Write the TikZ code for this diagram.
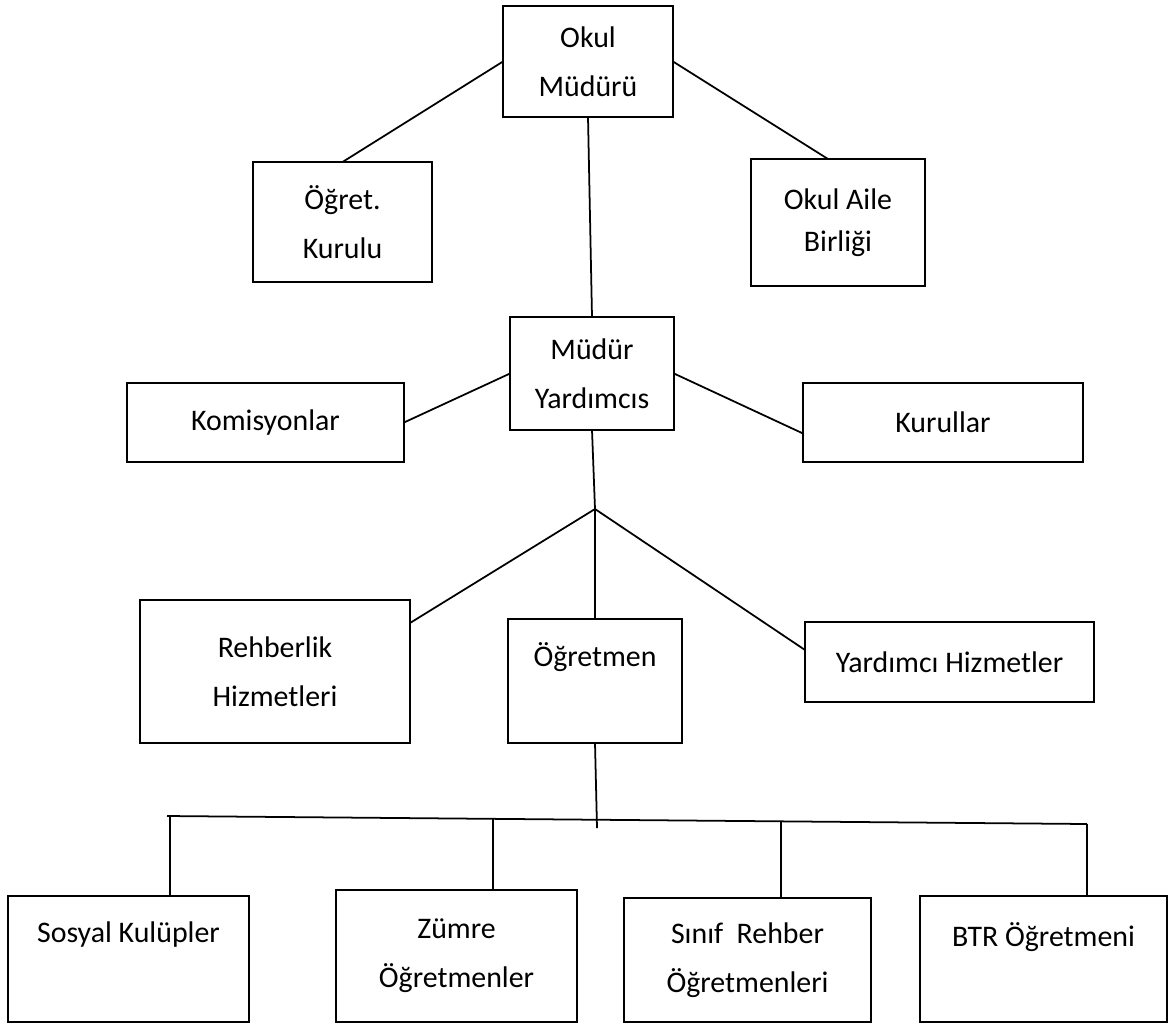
\documentclass[tikz,border=0pt]{standalone}
\usepackage{fontspec}
\setmainfont{Carlito}
\usetikzlibrary{calc}
\tikzset{box/.style={draw,line width=1.3pt,rectangle,align=center,inner sep=2pt,outer sep=0pt},
	toptext/.style={text height=0.48cm,text depth=#1}}

\begin{document}
\begin{tikzpicture}[x=0.02cm,y=-0.02cm,line width=1pt,every node/.style={font=\fontsize{17}{28}\selectfont}]
\useasboundingbox (0,0) rectangle (1172,1025);

\node[box,minimum width=3.40cm,minimum height=2.22cm] (om) at (588,61.5) {Okul\\Müdürü};
\node[box,minimum width=3.58cm,minimum height=2.40cm] (ok) at (342.5,222) {Öğret.\\Kurulu};
\node[box,minimum width=3.48cm,minimum height=2.54cm,font=\fontsize{17}{24}\selectfont] (oab) at (838,222.5) {Okul Aile\\Birliği};
\node[box,minimum width=3.28cm,minimum height=2.26cm] (my) at (592,373.5) {Müdür\\Yardımcıs};
\node[box,minimum width=5.54cm,minimum height=1.58cm] (kom) at (265.5,422.5) {Komisyonlar};
\node[box,minimum width=5.60cm,minimum height=1.58cm] (kur) at (943,422.5) {Kurullar};
\node[box,minimum width=5.40cm,minimum height=2.86cm] (reh) at (275,671.5) {Rehberlik\\Hizmetleri};
\node[box,toptext=1.06cm,minimum width=3.48cm,minimum height=2.48cm] (ogr) at (595,681) {Öğretmen};
\node[box,minimum width=5.78cm,minimum height=1.60cm] (yh) at (949.5,662) {Yardımcı Hizmetler};
\node[box,toptext=1.14cm,minimum width=4.82cm,minimum height=2.52cm] (sk) at (128.5,959) {Sosyal Kulüpler};
\node[box,minimum width=4.82cm,minimum height=2.64cm] (zo) at (456.5,956) {Zümre\\Öğretmenler};
\node[box,minimum width=4.94cm,minimum height=2.48cm] (sr) at (747.5,960) {Sınıf~~Rehber\\Öğretmenleri};
\node[box,toptext=0.98cm,minimum width=4.94cm,minimum height=2.52cm] (btr) at (1043.5,959) {BTR Öğretmeni};

\coordinate (j) at (595,509);
\coordinate (bl) at (167,816);
\coordinate (br) at (1087,824);
\coordinate (bm) at (597,828);

\draw (om.west) -- (ok.north);
\draw (om.east) -- ([xshift=-0.2cm]oab.north);
\draw (om.south) -- (my.north);
\draw (my.west) -- (kom.east);
\draw (my.east) -- ([yshift=-0.22cm]kur.west);
\draw (my.south) -- (j);
\draw (j) -- ([yshift=-0.46cm]reh.north east);
\draw (j) -- (ogr.north);
\draw (j) -- ([yshift=0.24cm]yh.west);
\draw (ogr.south) -- (bm);
\draw (bl) -- (br);
\foreach \t/\n [count=\k] in {0.0033/sk,0.354/zo,0.667/sr,1/btr} {
	\coordinate (d\k) at ($(bl)!\t!(br)$);
	\draw (d\k) -- (d\k |- \n.north);
};

\end{tikzpicture}
\end{document}
